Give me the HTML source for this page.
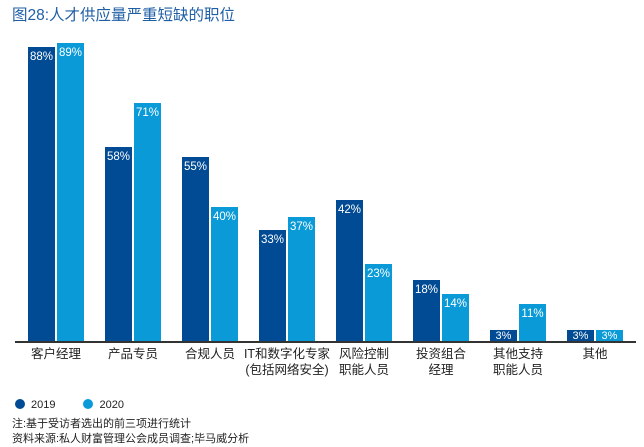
<!DOCTYPE html><html><head><meta charset="utf-8"><style>
body{margin:0;width:644px;height:447px;background:#fff;font-family:"Liberation Sans","Noto Sans CJK SC",sans-serif;position:relative;overflow:hidden}
.t{position:absolute;left:12px;top:3px;font-size:15.5px;color:#1f5fa6}
.b{position:absolute;width:27px;color:#fff;font-size:11.5px;text-align:center;box-sizing:border-box;padding-top:4px}
.d{background:#004b93}.l{background:#0a9ad8}
.c{position:absolute;width:120px;text-align:center;font-size:12.5px;color:#222;line-height:16px;top:346px}
.ax{position:absolute;left:15px;width:621px;top:341px;height:1.5px;background:#333}
.s{position:absolute;font-size:11px;color:#222}
.dot{display:inline-block;width:10px;height:10px;border-radius:50%;vertical-align:-1px;margin-right:6px}
</style></head><body>
<div class="t">图28:人才供应量严重短缺的职位</div>
<div id="bars"></div>
<div class="ax"></div>
<div class="c" style="left:-4px">客户经理</div>
<div class="c" style="left:73px">产品专员</div>
<div class="c" style="left:150px">合规人员</div>
<div class="c" style="left:227px">IT和数字化专家<br>(包括网络安全)</div>
<div class="c" style="left:304px">风险控制<br>职能人员</div>
<div class="c" style="left:381px">投资组合<br>经理</div>
<div class="c" style="left:458px">其他支持<br>职能人员</div>
<div class="c" style="left:535px">其他</div>
<div class="s" style="left:15px;top:399px"><span class="dot d"></span>2019<span style="display:inline-block;width:28px"></span><span class="dot l"></span>2020</div>
<div class="s" style="left:12px;top:415px">注:基于受访者选出的前三项进行统计</div>
<div class="s" style="left:12px;top:430px">资料来源:私人财富管理公会成员调查;毕马威分析</div>
<script>
var d=[[88,89],[58,71],[55,40],[33,37],[42,23],[18,14],[3,11],[3,3]],h='';
d.forEach(function(p,i){p.forEach(function(v,j){var x=28+i*77+j*29,ht=Math.round(3.34*v+1.5);
h+='<div class="b '+(j?'l':'d')+'" style="left:'+x+'px;top:'+(342-ht)+'px;height:'+ht+'px;'+(v<5?'padding-top:0;line-height:12px;font-size:11px':'')+'">'+v+'%</div>';});});
document.getElementById('bars').innerHTML=h;
</script>
</body></html>
